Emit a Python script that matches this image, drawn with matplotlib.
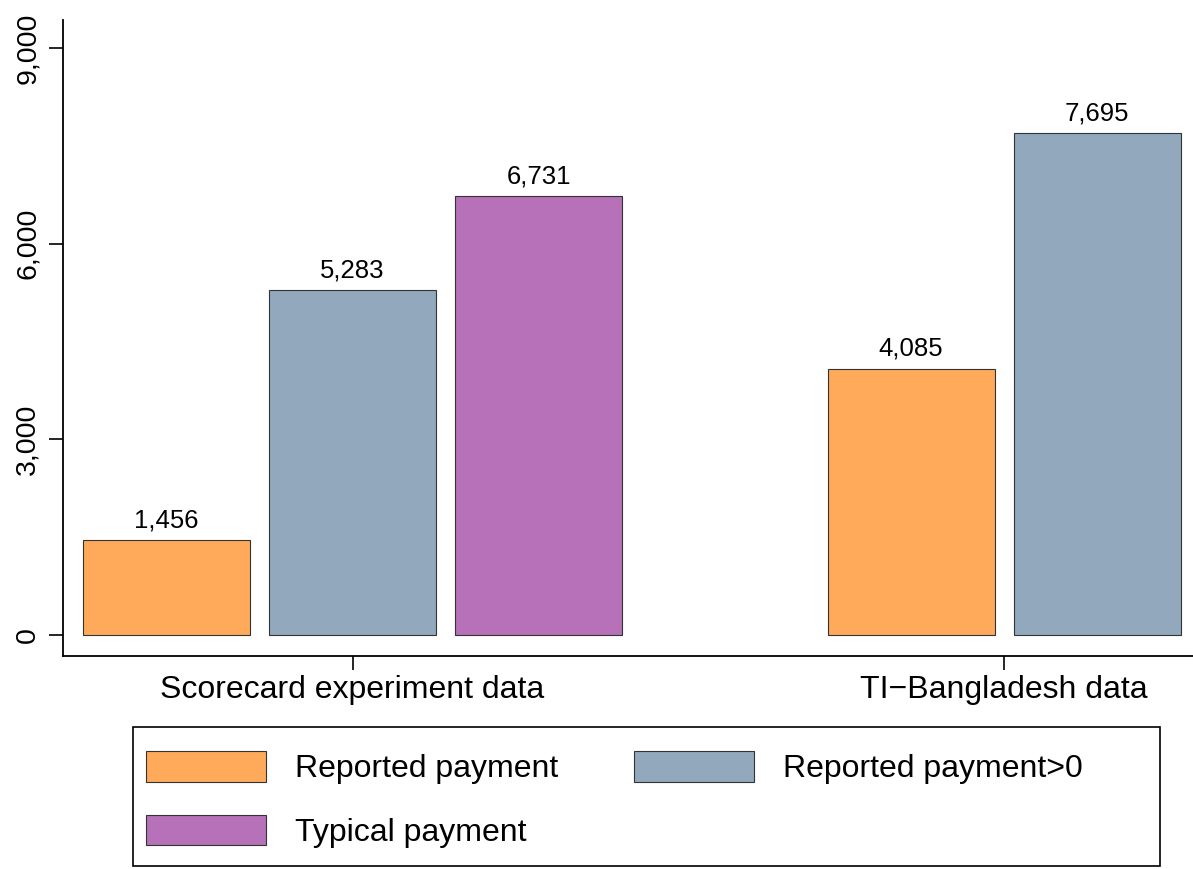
import matplotlib.pyplot as plt
import numpy as np
from matplotlib.ticker import FuncFormatter
from matplotlib.patches import Rectangle

plt.rcParams['font.family'] = ['Liberation Sans', 'DejaVu Sans']

groups = ['Scorecard experiment data', 'TI\u2212Bangladesh data']
series = ['Reported payment', 'Reported payment>0', 'Typical payment']
colors = ['#FFAA5A', '#91A8BD', '#B771B8']
# values per group (None = not available)
reported = [1456, 4085]
reported_pos = [5283, 7695]
typical = [6731, None]
values = [reported, reported_pos, typical]

W, H = 1193, 869
fig = plt.figure(figsize=(W / 100, H / 100), dpi=100)
ax = fig.add_axes([63 / W, 1 - 656 / H, 1 - 63 / W, (656 - 20) / H])

width = 167 / 651.5
step = 186 / 651.5

handles = {}
for g in range(len(groups)):
    present = [i for i in range(len(series)) if values[i][g] is not None]
    n = len(present)
    for k, i in enumerate(present):
        x = g + (k - (n - 1) / 2) * step
        v = values[i][g]
        b = ax.bar(x, v, width=width, color=colors[i], edgecolor='#333333', linewidth=0.8)
        handles.setdefault(i, b)
        ax.text(x, v + 120, f'{v:,}', ha='center', va='bottom', fontsize=18.5)

ax.set_xlim((63 - 352.5) / 651.5, (1193 - 352.5) / 651.5)
ax.set_ylim(-322, 9428)
ax.set_yticks([0, 3000, 6000, 9000])
ax.yaxis.set_major_formatter(FuncFormatter(lambda v, p: f'{int(v):,}'))
ax.set_xticks([0, 1])
ax.set_xticklabels(groups, fontsize=23)
for lab in ax.get_yticklabels():
    lab.set_rotation(90)
    lab.set_va('center')
    lab.set_fontsize(20.5)
ax.tick_params(axis='both', length=10, width=1.2, color='black', pad=6)
ax.tick_params(axis='x', pad=4)
ax.spines['top'].set_visible(False)
ax.spines['right'].set_visible(False)
ax.spines['left'].set_linewidth(1.3)
ax.spines['bottom'].set_linewidth(1.3)

# legend fills column-wise, so order to read row-wise
order = [0, 2, 1]
leg = fig.legend([handles[i] for i in order], [series[i] for i in order], ncol=2,
                 loc='upper left', bbox_to_anchor=(146 / W, 1 - 751 / H),
                 fontsize=23, handlelength=3.75, handleheight=1.1,
                 handletextpad=0.9, labelspacing=0.95, borderpad=0,
                 columnspacing=2.4, frameon=False, borderaxespad=0)
fig.add_artist(Rectangle((133 / W, 1 - 866 / H), (1160 - 133) / W, (866 - 727) / H,
                         transform=fig.transFigure, fill=False, edgecolor='black', linewidth=1.2))

fig.savefig('out.png', dpi=100)
